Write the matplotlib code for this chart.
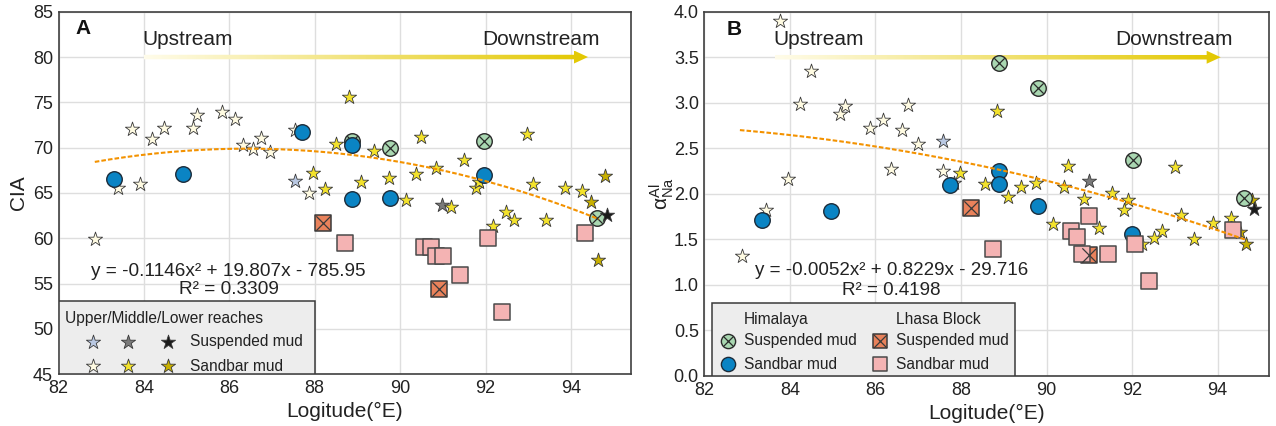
import numpy as np
import matplotlib
matplotlib.use('Agg')
import matplotlib.pyplot as plt
from matplotlib.patches import Rectangle, Polygon
from matplotlib.colors import LinearSegmentedColormap

plt.rcParams['font.family'] = ['Liberation Sans', 'DejaVu Sans']
plt.rcParams['mathtext.fontset'] = 'custom'
plt.rcParams['mathtext.rm'] = 'Liberation Sans'
plt.rcParams['mathtext.it'] = 'Liberation Sans:italic'

# ---------------- Panel A (CIA) ----------------
a_pale_x = [83.72, 84.19, 84.46, 85.15, 85.24, 85.82, 86.14, 86.33, 86.56, 86.74, 86.95, 87.53, 87.86, 83.39, 83.91, 82.86]
a_pale_y = [72.1, 70.95, 72.16, 72.2, 73.55, 73.9, 73.2, 70.3, 69.8, 71.1, 69.55, 72.0, 64.95, 65.6, 66.0, 59.9]
a_upsus_x = [87.55]
a_upsus_y = [66.3]
a_midsus_x = [90.98]
a_midsus_y = [63.7]
a_lowsus_x = [94.84]
a_lowsus_y = [62.6]
a_mid_x = [88.81, 88.51, 87.95, 88.24, 89.08, 89.38, 89.74, 90.14, 90.37, 90.5, 90.84, 91.2, 91.49, 91.77, 91.85,
           92.96, 93.12, 93.86, 94.27, 92.48, 92.17, 92.67, 93.41]
a_mid_y = [75.6, 70.4, 67.2, 65.4, 66.2, 69.6, 66.6, 64.25, 67.1, 71.2, 67.8, 63.5, 68.6, 65.6, 66.2,
           71.5, 66.0, 65.6, 65.2, 62.9, 61.4, 62.0, 62.0]
a_low_x = [94.48, 94.79, 94.63]
a_low_y = [64.0, 66.9, 57.6]
a_him_sand_x = [83.31, 84.92, 87.71, 88.87, 88.87, 89.76, 91.96]
a_him_sand_y = [66.5, 67.15, 71.7, 70.3, 64.3, 64.5, 67.0]
a_him_sus_x = [88.87, 89.76, 91.96, 94.6]
a_him_sus_y = [70.7, 70.0, 70.7, 62.2]
a_lh_sus_x = [88.2, 90.9]
a_lh_sus_y = [61.7, 54.45]
a_lh_sand_x = [88.7, 90.55, 90.72, 90.84, 91.0, 91.41, 92.06, 92.38, 94.33]
a_lh_sand_y = [59.5, 59.0, 59.0, 58.1, 58.0, 56.0, 60.0, 51.9, 60.6]
a_coef = [-0.1146, 19.807, -785.95]
a_fit_range = [82.85, 94.65]
a_eq = "y = -0.1146x\u00b2 + 19.807x - 785.95"
a_r2 = "R\u00b2 = 0.3309"

# ---------------- Panel B (alpha Al/Na) ----------------
b_pale_x = [83.76, 84.5, 84.23, 85.28, 85.18, 85.86, 86.18, 86.76, 86.61, 86.99, 86.36, 87.57, 83.96, 87.84, 83.43, 82.89]
b_pale_y = [3.90, 3.35, 2.99, 2.96, 2.88, 2.72, 2.81, 2.98, 2.70, 2.55, 2.27, 2.25, 2.16, 2.12, 1.82, 1.32]
b_upsus_x = [87.58]
b_upsus_y = [2.58]
b_midsus_x = [91.0]
b_midsus_y = [2.14]
b_lowsus_x = [94.85]
b_lowsus_y = [1.83]
b_mid_x = [88.83, 87.98, 88.55, 89.40, 89.10, 89.76, 90.51, 90.40, 90.87, 91.52, 91.91, 91.80, 93.0, 93.15,
           93.89, 94.3, 90.16, 91.23, 92.69, 92.5, 93.45, 92.22]
b_mid_y = [2.91, 2.23, 2.11, 2.08, 1.96, 2.12, 2.31, 2.08, 1.94, 2.01, 1.93, 1.82, 2.30, 1.77,
           1.68, 1.73, 1.67, 1.62, 1.59, 1.51, 1.50, 1.45]
b_low_x = [94.8, 94.66, 94.52]
b_low_y = [1.93, 1.45, 1.58]
b_him_sand_x = [83.34, 84.95, 87.75, 88.88, 88.88, 89.8, 91.99]
b_him_sand_y = [1.71, 1.81, 2.10, 2.25, 2.11, 1.87, 1.56]
b_him_sus_x = [88.89, 89.8, 92.01, 94.62]
b_him_sus_y = [3.44, 3.16, 2.37, 1.95]
b_lh_sus_x = [88.23, 90.99]
b_lh_sus_y = [1.84, 1.33]
b_lh_sand_x = [88.74, 90.57, 90.7, 90.82, 91.0, 91.44, 92.06, 92.4, 94.36]
b_lh_sand_y = [1.39, 1.59, 1.53, 1.34, 1.76, 1.34, 1.45, 1.04, 1.60]
b_coef = [-0.00521, 0.8229, -29.716]   # printed -0.0052 (rounded)
b_fit_range = [82.83, 94.65]
b_eq = "y = -0.0052x\u00b2 + 0.8229x - 29.716"
b_r2 = "R\u00b2 = 0.4198"

x_ticks = [82, 84, 86, 88, 90, 92, 94]

# colours
C_PALE = '#FFFBE2'
C_YEL = '#F3E22C'
C_DYEL = '#C8B000'
C_LBLUE = '#B9C8E2'
C_GRAY = '#7A7A7A'
C_BLACK = '#1A1A1A'
C_BLUE = '#0A84C4'
C_GREEN = '#A9D7B1'
C_ORANGE = '#E9825B'
C_PINK = '#F4B3B3'
C_TREND = '#F39200'
C_TXT = '#222222'

S_STAR = 115
S_CIRC = 125
S_SQ = 125

fig = plt.figure(figsize=(12.76, 4.26), dpi=100)
axA = fig.add_axes([58.5/1276, 1-374.3/426, (630.7-58.5)/1276, (374.3-11.7)/426])
axB = fig.add_axes([704.4/1276, 1-376/426, (1269-704.4)/1276, (376-11.7)/426])


def star(ax, x, y, c, z=3, s=S_STAR):
    ax.scatter(x, y, s=s, marker='*', c=c, edgecolors='#3a3a3a', linewidths=0.6, zorder=z)


def crossed_circle(ax, x, y, z=3.5, s=S_CIRC):
    ax.scatter(x, y, s=s, marker='o', c=C_GREEN, edgecolors='#2a2a2a', linewidths=1.0, zorder=z)
    ax.scatter(x, y, s=s*0.45, marker='x', c='#2a2a2a', linewidths=0.9, zorder=z+0.01)


def blue_circle(ax, x, y, z=3.6, s=S_CIRC):
    ax.scatter(x, y, s=s, marker='o', c=C_BLUE, edgecolors='#1c2c3a', linewidths=1.0, zorder=z)


def crossed_square(ax, x, y, z=3.7, s=S_SQ):
    ax.scatter(x, y, s=s, marker='s', c=C_ORANGE, edgecolors='#3a3a3a', linewidths=1.1, zorder=z)
    ax.scatter(x, y, s=s*0.85, marker='x', c='#3a3a3a', linewidths=0.9, zorder=z+0.01)


def pink_square(ax, x, y, z=3.7, s=S_SQ):
    ax.scatter(x, y, s=s, marker='s', c=C_PINK, edgecolors='#4a4a4a', linewidths=1.1, zorder=z)


def grad_arrow(ax, x0, x1, y, body_px, head_w_px, head_len_px, c0, c1):
    p0 = ax.transData.transform((x0, y))
    p1 = ax.transData.transform((x1, y))
    inv = ax.transAxes.inverted()
    hb = body_px / 2.0
    hw = head_w_px / 2.0
    xb = p1[0] - head_len_px
    pts = [(p0[0], p0[1]-hb), (xb, p0[1]-hb), (xb, p0[1]-hw), (p1[0], p0[1]),
           (xb, p0[1]+hw), (xb, p0[1]+hb), (p0[0], p0[1]+hb)]
    pts_ax = inv.transform(pts)
    poly = Polygon(pts_ax, closed=True, transform=ax.transAxes, facecolor='none', edgecolor='none')
    ax.add_patch(poly)
    cmap = LinearSegmentedColormap.from_list('g', [c0, c1])
    grad = np.linspace(0, 1, 256).reshape(1, -1)
    xs = pts_ax[:, 0]
    ys = pts_ax[:, 1]
    xl, yl = ax.get_xlim(), ax.get_ylim()
    im = ax.imshow(grad, cmap=cmap, aspect='auto', transform=ax.transAxes,
                   extent=[xs.min(), xs.max(), ys.min(), ys.max()], zorder=2.2, interpolation='bilinear')
    im.set_clip_path(poly)
    ax.set_xlim(xl)
    ax.set_ylim(yl)


def style(ax, xlim, ylim, yticks, yfmt):
    ax.set_xlim(*xlim)
    ax.set_ylim(*ylim)
    ax.set_xticks(x_ticks)
    ax.set_yticks(yticks)
    ax.set_yticklabels([yfmt.format(v) for v in yticks])
    ax.grid(True, color='#DEDEDE', lw=1.0, zorder=0)
    ax.set_axisbelow(True)
    ax.tick_params(length=0, labelsize=13, pad=4, colors=C_TXT)
    for sp in ax.spines.values():
        sp.set_color('#404040')
        sp.set_linewidth(1.2)
    ax.set_xlabel('Logitude(\u00b0E)', fontsize=15, color=C_TXT, labelpad=4)


# ================= Panel A =================
ax = axA
style(ax, (82, 95.4), (45, 85), [45, 50, 55, 60, 65, 70, 75, 80, 85], '{:.0f}')
ax.set_ylabel('CIA', fontsize=15, color=C_TXT, labelpad=3.5)

star(ax, a_pale_x, a_pale_y, C_PALE)
star(ax, a_upsus_x, a_upsus_y, C_LBLUE)
star(ax, a_midsus_x, a_midsus_y, C_GRAY)
star(ax, a_mid_x, a_mid_y, C_YEL)
star(ax, a_low_x, a_low_y, C_DYEL)
crossed_circle(ax, a_him_sus_x, a_him_sus_y)
blue_circle(ax, a_him_sand_x, a_him_sand_y)
crossed_square(ax, a_lh_sus_x, a_lh_sus_y)
pink_square(ax, a_lh_sand_x, a_lh_sand_y)
star(ax, a_lowsus_x, a_lowsus_y, C_BLACK, z=3.9)

xx = np.linspace(a_fit_range[0], a_fit_range[1], 200)
ax.plot(xx, np.polyval(a_coef, xx), color=C_TREND, lw=1.5, ls=(0, (2.2, 1.0)), zorder=3.95)

ax.text(85.98, 56.35, a_eq, fontsize=13.7, ha='center', va='center', color=C_TXT, zorder=6)
ax.text(85.98, 54.4, a_r2, fontsize=13.7, ha='center', va='center', color=C_TXT, zorder=6)
ax.text(82.39, 83.1, 'A', fontsize=15, fontweight='bold', ha='left', va='center', color='#111111')
ax.text(83.96, 81.9, 'Upstream', fontsize=15, ha='left', va='center', color=C_TXT)
ax.text(94.67, 81.9, 'Downstream', fontsize=15, ha='right', va='center', color=C_TXT)
grad_arrow(ax, 84.0, 94.4, 80.0, 4.5, 13, 14, '#FFFCEA', '#E3C800')

# legend A
ax.add_patch(Rectangle((82.0, 45), 88.0-82.0, 53.05-45, facecolor='#EDEDED', edgecolor='#3a3a3a',
                       lw=1.1, zorder=5))
ax.text(82.15, 51.15, 'Upper/Middle/Lower reaches', fontsize=11.2, ha='left', va='center', color=C_TXT, zorder=6)
for xm, c in zip([82.8, 83.63, 84.57], [C_LBLUE, C_GRAY, C_BLACK]):
    star(ax, [xm], [48.6], c, z=6)
for xm, c in zip([82.8, 83.63, 84.57], [C_PALE, C_YEL, C_DYEL]):
    star(ax, [xm], [45.9], c, z=6)
ax.text(85.08, 48.6, 'Suspended mud', fontsize=11.2, ha='left', va='center', color=C_TXT, zorder=6)
ax.text(85.08, 45.9, 'Sandbar mud', fontsize=11.2, ha='left', va='center', color=C_TXT, zorder=6)

# ================= Panel B =================
ax = axB
style(ax, (82, 95.2), (0, 4.0), [0.0, 0.5, 1.0, 1.5, 2.0, 2.5, 3.0, 3.5, 4.0], '{:.1f}')
ax.set_ylabel(r'$\mathregular{\alpha^{Al}_{Na}}$', fontsize=15, color=C_TXT, labelpad=-1.5)

star(ax, b_pale_x, b_pale_y, C_PALE)
star(ax, b_upsus_x, b_upsus_y, C_LBLUE)
star(ax, b_midsus_x, b_midsus_y, C_GRAY)
star(ax, b_mid_x, b_mid_y, C_YEL)
star(ax, b_low_x, b_low_y, C_DYEL)
crossed_circle(ax, b_him_sus_x, b_him_sus_y)
blue_circle(ax, b_him_sand_x, b_him_sand_y)
crossed_square(ax, b_lh_sus_x, b_lh_sus_y)
pink_square(ax, b_lh_sand_x, b_lh_sand_y)
star(ax, b_lowsus_x, b_lowsus_y, C_BLACK, z=3.9)

xx = np.linspace(b_fit_range[0], b_fit_range[1], 200)
ax.plot(xx, np.polyval(b_coef, xx), color=C_TREND, lw=1.5, ls=(0, (2.2, 1.0)), zorder=3.95)

ax.text(86.38, 1.16, b_eq, fontsize=13.5, ha='center', va='center', color=C_TXT, zorder=6)
ax.text(86.38, 0.94, b_r2, fontsize=13.5, ha='center', va='center', color=C_TXT, zorder=6)
ax.text(82.52, 3.81, 'B', fontsize=15, fontweight='bold', ha='left', va='center', color='#111111')
ax.text(83.61, 3.69, 'Upstream', fontsize=15, ha='left', va='center', color=C_TXT)
ax.text(94.35, 3.69, 'Downstream', fontsize=15, ha='right', va='center', color=C_TXT)
grad_arrow(ax, 83.64, 94.07, 3.5, 4.5, 13, 14, '#FFFCEA', '#E3C800')

# legend B
ax.add_patch(Rectangle((82.18, 0.0), 89.26-82.18, 0.805, facecolor='#EDEDED', edgecolor='#3a3a3a',
                       lw=1.1, zorder=5))
ax.text(82.93, 0.625, 'Himalaya', fontsize=11.2, ha='left', va='center', color=C_TXT, zorder=6)
ax.text(86.49, 0.625, 'Lhasa Block', fontsize=11.2, ha='left', va='center', color=C_TXT, zorder=6)
crossed_circle(ax, [82.56], [0.386], z=6, s=105)
blue_circle(ax, [82.56], [0.129], z=6, s=105)
crossed_square(ax, [86.11], [0.386], z=6, s=105)
pink_square(ax, [86.11], [0.129], z=6, s=105)
ax.text(82.93, 0.386, 'Suspended mud', fontsize=11.2, ha='left', va='center', color=C_TXT, zorder=6)
ax.text(82.93, 0.129, 'Sandbar mud', fontsize=11.2, ha='left', va='center', color=C_TXT, zorder=6)
ax.text(86.49, 0.386, 'Suspended mud', fontsize=11.2, ha='left', va='center', color=C_TXT, zorder=6)
ax.text(86.49, 0.129, 'Sandbar mud', fontsize=11.2, ha='left', va='center', color=C_TXT, zorder=6)

fig.savefig('out.png', dpi=100)
